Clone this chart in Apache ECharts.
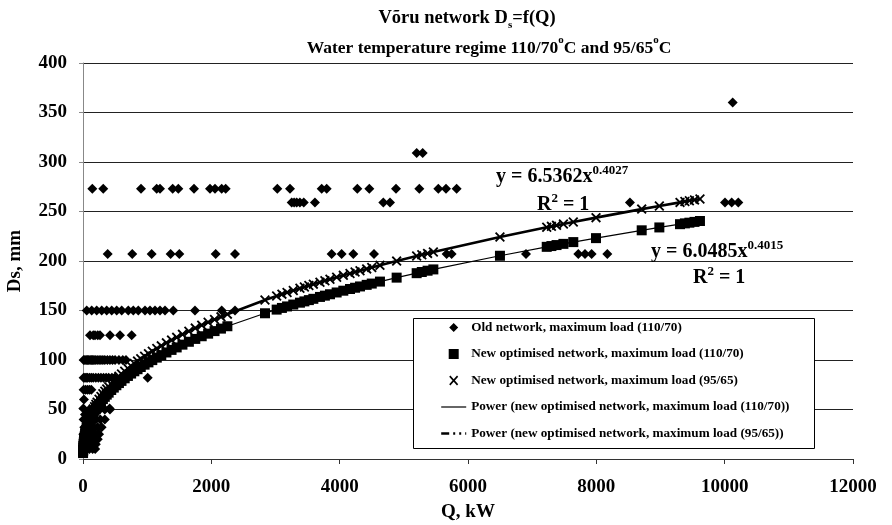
<!DOCTYPE html>
<html><head><meta charset="utf-8">
<script src="https://cdn.jsdelivr.net/npm/echarts@6/dist/echarts.min.js"></script>
<style>html,body{margin:0;padding:0;background:#fff}#c{width:892px;height:525px}</style>
</head><body><div id="c"></div>
<script>
// ---- data ----
const xTicks = [0, 2000, 4000, 6000, 8000, 10000, 12000];
const yTicks = [0, 50, 100, 150, 200, 250, 300, 350, 400];

// Old network (110/70): Q [kW], Ds [mm]
const qOld = [145,316,904,1148,1200,1398,1485,1730,1979,2057,2161,2224,3028,3226,3720,3798,4275,4462,4878,5241,5537,5657,5823,
  3252,3290,3330,3380,3440,3615,4680,4784,8524,10005,10109,10213,
  5200,5294,
  10125,
  385,768,1070,1366,1501,2068,2369,3875,4031,4213,4535,5667,5745,6904,7719,7823,7927,8171,
  58,135,213,291,369,447,525,603,706,784,862,966,1044,1122,1200,1278,1407,1745,2161,2369,
  109,160,187,230,265,421,577,759,
  10,30,50,70,90,110,130,150,170,190,220,250,280,310,340,380,420,460,500,560,620,670,
  10,30,50,70,100,130,160,200,240,280,320,360,400,450,494,1008,
  10,40,70,100,130,
  5,415,
  5,10,20,15,30,40,20,
  20,60,100,150,190,
  20,60,100,150,200,
  30,80,130,180,230,
  40,90,140,200,250,
  50,110,170,230,290,
  60,130,200,270,340,
  100,180,260,340,420];
const dsOld = [273,273,273,273,273,273,273,273,273,273,273,273,273,273,273,273,273,273,273,273,273,273,273,
  259,259,259,259,259,259,259,259,259,259,259,259,
  309,309,
  360,
  207,207,207,207,207,207,207,207,207,207,207,207,207,207,207,207,207,207,
  150,150,150,150,150,150,150,150,150,150,150,150,150,150,150,150,150,150,150,150,
  125,125,125,125,125,125,125,125,
  100,100,100,100,100,100,100,100,100,100,100,100,100,100,100,100,100,100,100,100,100,100,
  82,82,82,82,82,82,82,82,82,82,82,82,82,82,82,82,
  70,70,70,70,70,
  51,51,
  25,40,32,60,45,20,15,
  10,10,10,10,10,
  15,15,15,15,15,
  20,20,20,20,20,
  25,25,25,25,25,
  32,32,32,32,32,
  40,40,40,40,40,
  50,50,50,50,50];

// New optimised network: shared Q [kW]
const qNew = [1,2,3,5,7,10,13,16,20,25,30,35,40,50,60,70,80,90,100,115,130,145,160,180,200,220,250,280,310,340,370,400,440,480,520,560,600,650,700,750,800,850,900,960,1020,1080,1150,1220,1300,1380,1460,1550,1650,1750,1850,1950,2050,2150,2250,
  2836,3018,3100,3180,3277,3381,3450,3520,3590,3693,3770,3849,3953,4057,4161,4240,4317,4421,4500,4628,4888,5200,5280,5370,5460,
  6498,7227,7300,7380,7487,7641,7995,8707,8982,9304,9380,9450,9530,9615];
// Ds at 110/70 (squares)
const dsNew110 = [6.0,8.0,9.4,11.5,13.2,15.2,16.9,18.4,20.1,22.0,23.7,25.2,26.6,29.1,31.3,33.3,35.1,36.8,38.4,40.6,42.7,44.6,46.4,48.7,50.8,52.7,55.5,58.1,60.5,62.8,65.0,67.0,69.7,72.1,74.5,76.7,78.9,81.5,83.9,86.3,88.6,90.7,92.9,95.3,97.6,99.9,102.4,104.9,107.6,110.2,112.7,115.5,118.4,121.3,124.0,126.6,129.2,131.7,134.1,
  147.2,150.9,152.6,154.1,156.0,157.9,159.2,160.5,161.8,163.7,165.0,166.4,168.2,170.0,171.7,173.0,174.3,175.9,177.2,179.2,183.2,187.7,188.9,190.2,191.5,
  205.3,214.3,215.1,216.1,217.3,219.1,223.1,231.0,233.9,237.2,238.0,238.7,239.5,240.4];
// Ds at 95/65 (crosses)
const dsNew95 = [6.5,8.6,10.2,12.5,14.3,16.5,18.4,20.0,21.8,23.9,25.7,27.4,28.9,31.6,34.0,36.2,38.2,40.0,41.8,44.2,46.4,48.5,50.5,52.9,55.2,57.4,60.4,63.2,65.9,68.4,70.7,73.0,75.8,78.5,81.1,83.6,85.9,88.7,91.4,94.0,96.5,98.9,101.2,103.8,106.4,108.9,111.6,114.3,117.3,120.1,122.9,125.9,129.1,132.2,135.2,138.1,140.9,143.6,146.3,
  160.6,164.7,166.5,168.2,170.2,172.4,173.8,175.2,176.6,178.6,180.1,181.6,183.6,185.5,187.4,188.9,190.2,192.0,193.4,195.6,199.9,205.0,206.3,207.7,209.1,
  224.3,234.1,235.0,236.0,237.4,239.4,243.8,252.4,255.5,259.2,260.1,260.8,261.7,262.6];

const seriesNames = [
  'Old network, maximum load (110/70)',
  'New optimised network, maximum load (110/70)',
  'New optimised network, maximum load (95/65)',
  'Power (new optimised network, maximum load (110/70))',
  'Power (new optimised network, maximum load (95/65))'
];

// ---- chart ----
const FONT = '"Liberation Serif", "Times New Roman", serif';
const zip = (a, b) => a.map((v, i) => [v, b[i]]);
const oldData = zip(qOld, dsOld);
const new110 = zip(qNew, dsNew110);
const new95 = zip(qNew, dsNew95);
const X_PATH = 'path://M0,1.3L1.3,0L5,3.7L8.7,0L10,1.3L6.3,5L10,8.7L8.7,10L5,6.3L1.3,10L0,8.7L3.7,5Z';
// legend icons padded to the 25x10 icon box so they are not stretched
const PAD = 'M0,5L0,5.001L0,5Z M25,5L25,5.001L25,5Z ';
const LEG_DIAMOND = 'path://' + PAD + 'M12.5,0.5L17,5L12.5,9.5L8,5Z';
const LEG_RECT = 'path://' + PAD + 'M7.5,0L17.5,0L17.5,10L7.5,10Z';
const LEG_X = 'path://' + PAD + 'M8,1.2L9.2,0L12.5,3.8L15.8,0L17,1.2L13.7,5L17,8.8L15.8,10L12.5,6.2L9.2,10L8,8.8L11.3,5Z';

const chart = echarts.init(document.getElementById('c'), null, {renderer: 'canvas'});
const txt = {fontFamily: FONT, fontWeight: 'bold', color: '#000'};
const M = (fs) => ({fontSize: fs, fontFamily: FONT, fontWeight: 'bold', fill: '#000', lineHeight: 26});
const SUP = (fs) => ({fontSize: fs, fontFamily: FONT, fontWeight: 'bold', fill: '#000', verticalAlign: 'top', lineHeight: fs + 1});
const SUB = (fs) => ({fontSize: fs, fontFamily: FONT, fontWeight: 'bold', fill: '#000', verticalAlign: 'bottom', lineHeight: 18});
const hiddenSym = {color: 'rgba(0,0,0,0)', borderWidth: 0, opacity: 0};

chart.setOption({
  animation: false,
  backgroundColor: '#fff',
  grid: {left: 83, right: 39, top: 63, bottom: 66, containLabel: false, outerBoundsMode: 'none'},
  xAxis: {
    type: 'value', min: xTicks[0], max: xTicks[xTicks.length - 1], interval: xTicks[1] - xTicks[0],
    name: 'Q, kW', nameLocation: 'middle', nameGap: 44,
    nameTextStyle: Object.assign({fontSize: 19}, txt),
    axisLine: {show: true, lineStyle: {color: '#333', width: 1}},
    axisTick: {show: true, length: 5, lineStyle: {color: '#333'}},
    axisLabel: Object.assign({fontSize: 19, margin: 19, formatter: (v) => String(v)}, txt),
    splitLine: {show: false}
  },
  yAxis: {
    type: 'value', min: yTicks[0], max: yTicks[yTicks.length - 1], interval: yTicks[1] - yTicks[0],
    name: 'Ds, mm', nameLocation: 'middle', nameGap: 58, nameRotate: 90,
    nameTextStyle: Object.assign({fontSize: 19}, txt),
    axisLine: {show: true, lineStyle: {color: '#888', width: 1}},
    axisTick: {show: true, length: 4, lineStyle: {color: '#888'}},
    axisLabel: Object.assign({fontSize: 19, margin: 16, formatter: (v) => String(v)}, txt),
    splitLine: {show: true, lineStyle: {color: '#222', width: 1}}
  },
  legend: {
    orient: 'vertical', left: 440, top: 320, padding: 0,
    itemWidth: 25, itemHeight: 10, itemGap: 11.5,
    textStyle: Object.assign({fontSize: 13.2, lineHeight: 15}, txt),
    data: [
      {name: seriesNames[0], icon: LEG_DIAMOND},
      {name: seriesNames[1], icon: LEG_RECT},
      {name: seriesNames[2], icon: LEG_X},
      {name: seriesNames[3], itemStyle: hiddenSym, lineStyle: {width: 1.2, type: 'solid', color: '#000'}},
      {name: seriesNames[4], itemStyle: hiddenSym, lineStyle: {width: 2.4, type: [8, 4, 2, 4, 2, 4], color: '#000'}}
    ],
    z: 6
  },
  series: [
    {name: seriesNames[0], type: 'scatter', data: oldData, symbol: 'diamond', symbolSize: 10,
      itemStyle: {color: '#000', opacity: 1}, z: 2},
    {name: seriesNames[1], type: 'scatter', data: new110, symbol: 'rect', symbolSize: 10,
      itemStyle: {color: '#000', opacity: 1}, z: 3},
    {name: seriesNames[2], type: 'scatter', data: new95, symbol: X_PATH, symbolSize: 10,
      itemStyle: {color: '#000', opacity: 1}, z: 3},
    {name: seriesNames[3], type: 'line', data: new110, symbol: 'none', showSymbol: false,
      lineStyle: {color: '#000', width: 1.2, type: 'solid'}, itemStyle: {color: '#000'}, z: 4},
    {name: seriesNames[4], type: 'line', data: new95, symbol: 'none', showSymbol: false,
      lineStyle: {color: '#000', width: 2.6, type: 'solid'}, itemStyle: {color: '#000'}, z: 4}
  ],
  graphic: [
    {type: 'rect', z: 5, shape: {x: 413.5, y: 318.5, width: 401, height: 130},
      style: {fill: '#fff', stroke: '#000', lineWidth: 1}},
    {type: 'text', z: 6, x: 467, y: 18, style: {
      text: '{m|Võru network D}{s|s}{m|=f(Q)}', align: 'center', verticalAlign: 'middle',
      rich: {m: M(18.5), s: SUB(11)}}},
    {type: 'text', z: 6, x: 489, y: 48, style: {
      text: '{m|Water temperature regime 110/70}{s|o}{m|C and 95/65}{s|o}{m|C}', align: 'center', verticalAlign: 'middle',
      rich: {m: M(17.5), s: SUP(11)}}},
    {type: 'text', z: 6, x: 496, y: 177, style: {
      text: '{m|y = 6.5362x}{s|0.4027}', verticalAlign: 'middle',
      rich: {m: M(20), s: SUP(13)}}},
    {type: 'text', z: 6, x: 537, y: 205, style: {
      text: '{m|R}{s|2}{m| = 1}', verticalAlign: 'middle',
      rich: {m: M(20), s: SUP(13)}}},
    {type: 'text', z: 6, x: 651, y: 252, style: {
      text: '{m|y = 6.0485x}{s|0.4015}', verticalAlign: 'middle',
      rich: {m: M(20), s: SUP(13)}}},
    {type: 'text', z: 6, x: 693, y: 278, style: {
      text: '{m|R}{s|2}{m| = 1}', verticalAlign: 'middle',
      rich: {m: M(20), s: SUP(13)}}}
  ]
});
</script></body></html>
